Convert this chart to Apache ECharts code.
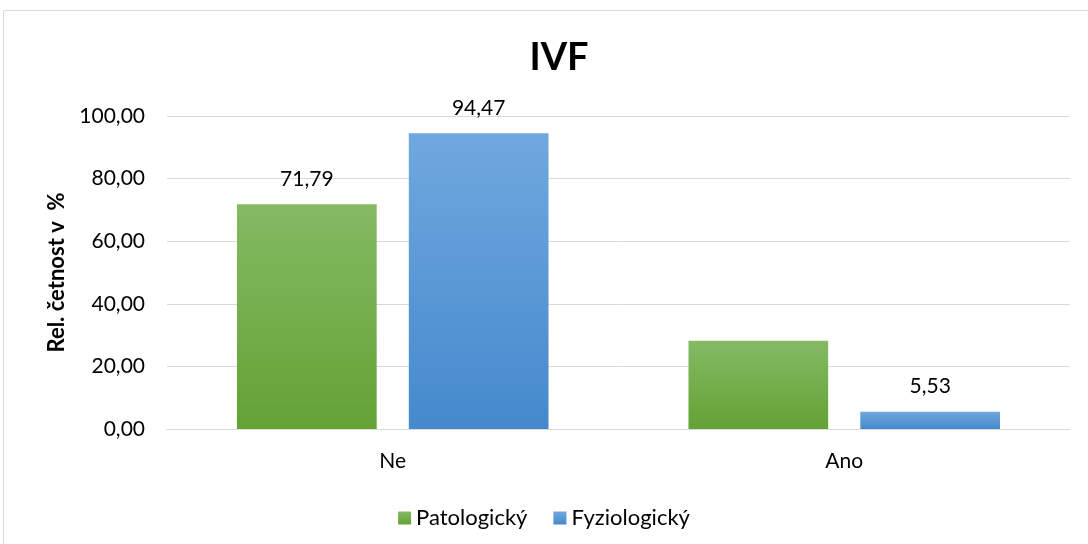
<!DOCTYPE html>
<html>
<head>
<meta charset="utf-8">
<script src="https://cdn.jsdelivr.net/npm/echarts@6/dist/echarts.min.js"></script>
<style>
  html, body { margin: 0; padding: 0; background: #fff; }
  #main { width: 1088px; height: 544px; }
</style>
</head>
<body>
<div id="main"></div>
<script>
var categories = ['Ne', 'Ano'];
var patologicky = [71.79, 28.21];
var fyziologicky = [94.47, 5.53];
var yTicks = [0, 20, 40, 60, 80, 100];

var myChart = echarts.init(document.getElementById('main'));

function fmt(v) {
  return v.toFixed(2).replace('.', ',');
}

function grad(top, bottom) {
  return new echarts.graphic.LinearGradient(0, 0, 0, 1, [
    { offset: 0, color: top },
    { offset: 1, color: bottom }
  ]);
}

var font = 'Lato, "Open Sans", sans-serif';

var option = {
  textStyle: { fontFamily: font },
  graphic: [{
    type: 'rect',
    shape: { x: 3.5, y: 10.5, width: 1100, height: 560 },
    style: { fill: 'none', stroke: '#d9d9d9', lineWidth: 1 },
    silent: true
  }],
  title: {
    text: 'IVF',
    left: 554,
    top: 34,
    textAlign: 'center',
    textStyle: { fontSize: 38, fontWeight: 'bold', color: '#000', fontFamily: font }
  },
  legend: {
    data: ['Patologický', 'Fyziologický'],
    top: 502,
    left: 'center',
    itemWidth: 13,
    itemHeight: 13,
    itemGap: 26,
    icon: 'rect',
    textStyle: { fontSize: 22, color: '#000', fontFamily: font }
  },
  grid: { left: 167, right: 18, top: 116, bottom: 115 },
  xAxis: {
    type: 'category',
    data: categories,
    axisTick: { show: false },
    axisLine: { lineStyle: { color: '#d9d9d9' } },
    axisLabel: { fontSize: 21, color: '#000', margin: 22, fontFamily: font }
  },
  yAxis: {
    type: 'value',
    min: yTicks[0],
    max: yTicks[yTicks.length - 1],
    interval: 20,
    name: 'Rel. četnost v  %',
    nameLocation: 'middle',
    nameGap: 99,
    nameTextStyle: { fontSize: 22, fontWeight: 'bold', color: '#000', fontFamily: font },
    axisLine: { show: false },
    axisTick: { show: false },
    splitLine: { lineStyle: { color: '#d9d9d9', width: 1 } },
    axisLabel: { fontSize: 21, color: '#000', margin: 22, formatter: fmt, fontFamily: font }
  },
  series: [{
    name: 'Patologický',
    type: 'bar',
    barGap: '23%',
    barCategoryGap: '31%',
    data: patologicky.map(function (v, i) {
      return { value: v, label: { show: i === 0 } };
    }),
    itemStyle: { color: grad('#84ba64', '#64a234') },
    label: {
      show: true, position: 'top', distance: 15, fontSize: 21, color: '#000',
      formatter: function (p) { return fmt(p.value); }
    }
  }, {
    name: 'Fyziologický',
    type: 'bar',
    data: fyziologicky,
    itemStyle: { color: grad('#70a8df', '#4589cc') },
    label: {
      show: true, position: 'top', distance: 15, fontSize: 21, color: '#000',
      formatter: function (p) { return fmt(p.value); }
    }
  }]
};

myChart.setOption(option);
</script>
</body>
</html>
